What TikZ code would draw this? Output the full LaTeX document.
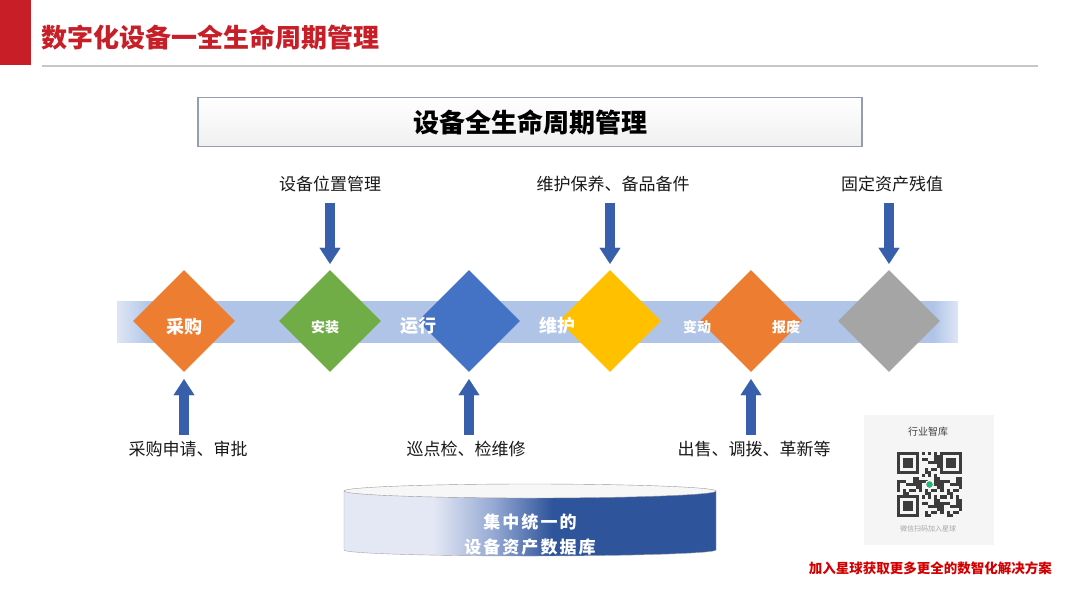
\documentclass[tikz,border=0pt]{standalone}
\usepackage{fontspec}
\setmainfont{Noto Sans CJK SC}
\newfontfamily\widecjk[LetterSpace=12]{Noto Sans CJK SC}
\usetikzlibrary{shapes.geometric,arrows.meta,positioning}

\definecolor{hdred}{RGB}{200,30,40}
\definecolor{lnred}{RGB}{210,0,0}
\definecolor{hdline}{RGB}{150,156,178}
\definecolor{bandblue}{RGB}{176,196,232}
\definecolor{bandlite}{RGB}{222,230,245}
\definecolor{arrblue}{RGB}{55,95,172}
\definecolor{dorange}{RGB}{237,125,49}
\definecolor{dgreen}{RGB}{112,173,71}
\definecolor{dblue}{RGB}{68,114,196}
\definecolor{dyellow}{RGB}{255,192,0}
\definecolor{dgrey}{RGB}{165,165,165}
\definecolor{dbL}{RGB}{228,232,244}
\definecolor{dbM}{RGB}{150,170,212}
\definecolor{dbD}{RGB}{46,84,155}
\definecolor{qrgrey}{RGB}{60,60,60}

\pgfdeclarehorizontalshading{bandfade}{100bp}{color(0bp)=(bandlite); color(25bp)=(bandlite);
  color(27bp)=(bandblue); color(73.5bp)=(bandblue); color(75bp)=(bandlite); color(100bp)=(bandlite)}
\pgfdeclarehorizontalshading{dbfade}{100bp}{color(0bp)=(dbL); color(25bp)=(dbL);
  color(37bp)=(dbL); color(45bp)=(dbM); color(53bp)=(dbD); color(100bp)=(dbD)}

\begin{document}
\begin{tikzpicture} [
        x=1pt, y=-1pt,
        dia/.style={diamond, minimum width=102pt, minimum height=102pt, inner sep=0pt},
        bandtxt/.style={text=white, font=\bfseries\fontsize{18}{18}\selectfont},
        smalltxt/.style={text=white, font=\bfseries\fontsize{14}{14}\selectfont},
        lbl/.style={text=black!90, inner sep=0pt, font=\fontsize{17}{17}\selectfont},
        bigarrow/.style={arrblue, line width=10pt,
            -{Triangle[width=21pt, length=16pt, line width=0.1pt]}},
        finder/.style={fill=qrgrey} ]
    \useasboundingbox[fill=white] (0,0) rectangle (1080,608);

    \fill[hdred] (0,0) rectangle (31,65);
    \node[anchor=west, text=hdred, inner sep=0pt, font=\bfseries\fontsize{26}{26}\selectfont] (title) at (41,37) {数字化设备一全生命周期管理};
    \draw[black!22, line width=1.5pt] (42,66) -- (1038,66);

    \node[draw=hdline, line width=1.2pt, top color=white, bottom color=black!6,
        minimum width=664pt, minimum height=49pt, font=\bfseries\fontsize{26}{26}\selectfont] (head) at (530,122) {设备全生命周期管理};

    \shade[shading=bandfade] (117,301) rectangle (958,342);

    \node[dia, fill=dorange] (dCG) at (184,321) {};
    \node[dia, fill=dgreen]  (dAZ) at (330,321) {};
    \node[dia, fill=dblue]   (dYX) at (469,321) {};
    \node[dia, fill=dyellow] (dWH) at (610,321) {};
    \node[dia, fill=dorange] (dBD) at (751,321) {};
    \node[dia, fill=dgrey]   (dCZ) at (889,321) {};

    \node[bandtxt]  (nCG) at (184,327) {采购};
    \node[smalltxt] (nAZ) at (325,327) {安装};
    \node[bandtxt]  (nYX) at (418,326) {运行};
    \node[bandtxt]  (nWH) at (557,326) {维护};
    \node[smalltxt] (nBD) at (697,327) {变动};
    \node[smalltxt] (nBF) at (786,327) {报废};

    \node[lbl] (tAZ) at (330,184) {设备位置管理};
    \node[lbl] (tWH) at (613,184) {维护保养、备品备件};
    \node[lbl] (tCZ) at (892,184) {固定资产残值};
    \node[lbl] (bCG) at (188,449) {采购申请、审批};
    \node[lbl] (bYX) at (466,449) {巡点检、检维修};
    \node[lbl] (bBD) at (754,449) {出售、调拨、革新等};

    \draw[bigarrow, shorten <=11pt, shorten >=6pt] (dAZ |- tAZ.south) -- (dAZ.north);
    \draw[bigarrow, shorten <=11pt, shorten >=6pt] (dWH |- tWH.south) -- (dWH.north);
    \draw[bigarrow, shorten <=11pt, shorten >=6pt] (dCZ |- tCZ.south) -- (dCZ.north);
    \draw[bigarrow, shorten <=6pt, shorten >=7pt] (dCG |- bCG.north) -- (dCG.south);
    \draw[bigarrow, shorten <=6pt, shorten >=7pt] (dYX |- bYX.north) -- (dYX.south);
    \draw[bigarrow, shorten <=6pt, shorten >=7pt] (dBD |- bBD.north) -- (dBD.south);

    \shade[shading=dbfade, draw=black!35] (344,491) -- (344,550)
        arc[start angle=180, end angle=360, x radius=186pt, y radius=6pt] -- (716,491) -- cycle;
    \filldraw[fill=black!3, draw=black!40] (530,491) ellipse[x radius=186pt, y radius=7pt];
    \node[text=white, align=center, font=\widecjk\bfseries\fontsize{17}{25}\selectfont] (db) at (530,535) {集中统一的\\设备资产数据库};

    \fill[black!4] (864,415) rectangle (994,545);
    \node[font=\fontsize{10}{10}\selectfont, text=black!75] (qrt) at (928,432) {行业智库};
    \begin{scope}[shift={(897,452)}]
        \foreach \i in {0,...,20}
            \foreach \j in {0,...,20}{
                \pgfmathtruncatemacro\qv{mod(\i*37+\j*91+\i*\j*13+\j*\j*11+\i*\i*5,7)}
                \ifnum\qv<3 \fill[qrgrey] (\i*3.1,\j*3.1) rectangle ++(3.1,3.1);\fi}
        \foreach \fx/\fy in {0/0, 13.9/0, 0/13.9}{
            \fill[black!4] (\fx*3.1,\fy*3.1) rectangle ++(24.8,24.8);
            \fill[finder] (\fx*3.1,\fy*3.1) rectangle ++(21.7,21.7);
            \fill[black!4] (\fx*3.1+3.1,\fy*3.1+3.1) rectangle ++(15.5,15.5);
            \fill[finder] (\fx*3.1+6.2,\fy*3.1+6.2) rectangle ++(9.3,9.3);}
        \filldraw[fill={rgb,255:red,40;green,180;blue,120}, draw=white, line width=1pt] (32.5,32.5) circle[radius=4pt];
    \end{scope}
    \node[font=\fontsize{7}{7}\selectfont, text=black!35] (qrb) at (928,529) {微信扫码加入星球};

    \node[anchor=east, text=lnred, inner sep=0pt, font=\bfseries\fontsize{13.5}{13.5}\selectfont] (foot) at (1052,568) {加入星球获取更多更全的数智化解决方案};
\end{tikzpicture}
\end{document}
